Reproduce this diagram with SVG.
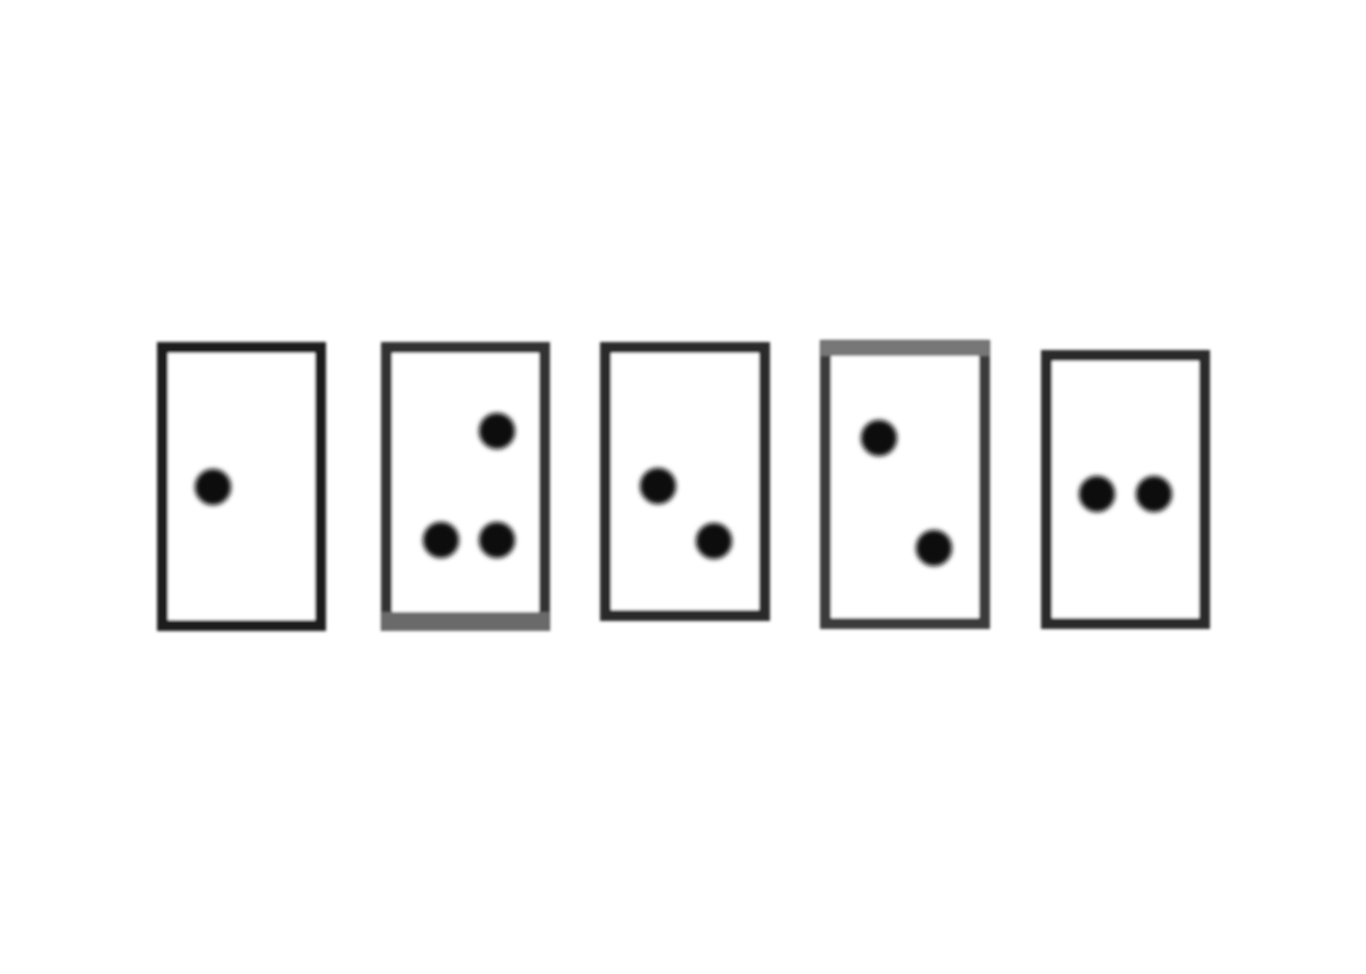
<svg xmlns="http://www.w3.org/2000/svg" width="1366" height="974" viewBox="0 0 1366 974">
<defs>
<filter id="soft" x="-20%" y="-20%" width="140%" height="140%"><feGaussianBlur stdDeviation="1.5"/></filter>
<filter id="dotblur" x="-50%" y="-50%" width="200%" height="200%"><feGaussianBlur stdDeviation="2.5"/></filter>
</defs>
<style>
.card{fill:#fff;stroke:#1e1e1e;stroke-width:11}
.band{fill:#6a6a6a}
.dot{fill:#0a0a0a}
</style>
<rect width="1366" height="974" fill="#fff"/>
<g id="card1" filter="url(#soft)">
<rect class="card" x="162.5" y="347.5" width="158" height="278"/>
</g>
<g id="card1-dots" filter="url(#dotblur)"><circle class="dot" cx="213" cy="487" r="18"/></g>
<g id="card2" filter="url(#soft)">
<rect class="card" x="386.5" y="347.5" width="158" height="278" style="stroke:#333"/>
<rect class="band" x="382" y="612" width="167" height="19"/>
</g>
<g id="card2-dots" filter="url(#dotblur)">
<circle class="dot" cx="497" cy="431" r="18"/>
<circle class="dot" cx="441" cy="540" r="18"/>
<circle class="dot" cx="497" cy="540" r="18"/>
</g>
<g id="card3" filter="url(#soft)">
<rect class="card" x="605.5" y="347.5" width="159" height="268" style="stroke:#2a2a2a"/>
</g>
<g id="card3-dots" filter="url(#dotblur)">
<circle class="dot" cx="658" cy="486" r="18"/>
<circle class="dot" cx="714" cy="541" r="18"/>
</g>
<g id="card4" filter="url(#soft)">
<rect class="card" x="825.5" y="345.5" width="159" height="278" style="stroke:#3a3a3a"/>
<rect class="band" x="821" y="341" width="168" height="15" style="fill:#777"/>
</g>
<g id="card4-dots" filter="url(#dotblur)">
<circle class="dot" cx="879" cy="438" r="18"/>
<circle class="dot" cx="934" cy="548" r="18"/>
</g>
<g id="card5" filter="url(#soft)">
<rect class="card" x="1046.5" y="355.5" width="158" height="268" style="stroke:#2a2a2a"/>
</g>
<g id="card5-dots" filter="url(#dotblur)">
<circle class="dot" cx="1097" cy="494" r="18"/>
<circle class="dot" cx="1154" cy="494" r="18"/>
</g>
</svg>
